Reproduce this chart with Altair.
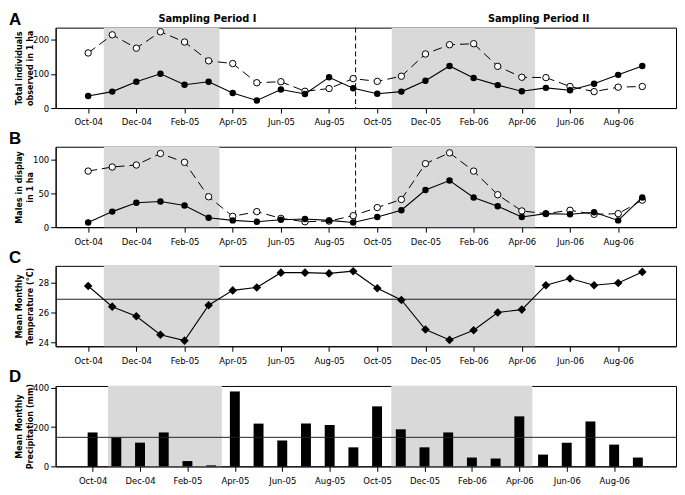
import altair as alt
import pandas as pd

months = ["Oct-04", "Nov-04", "Dec-04", "Jan-05", "Feb-05", "Mar-05", "Apr-05", "May-05",
          "Jun-05", "Jul-05", "Aug-05", "Sep-05", "Oct-05", "Nov-05", "Dec-05", "Jan-06",
          "Feb-06", "Mar-06", "Apr-06", "May-06", "Jun-06", "Jul-06", "Aug-06", "Sep-06"]
total_filled = [35, 48, 77, 100, 68, 77, 44, 22, 54, 41, 90, 58,
                42, 48, 80, 123, 88, 67, 49, 59, 52, 71, 97, 123]
total_open = [161, 214, 175, 223, 193, 138, 130, 74, 77, 49, 57, 86,
              78, 93, 158, 185, 188, 122, 90, 89, 63, 48, 61, 63]
males_filled = [7, 23, 36, 38, 32, 14, 10, 8, 11, 12, 10, 7,
                15, 25, 55, 69, 44, 31, 15, 20, 19, 22, 10, 44]
males_open = [83, 89, 92, 109, 96, 45, 16, 23, 13, 8, 9, 17,
              29, 41, 94, 110, 83, 48, 24, 20, 25, 19, 20, 40]
temperature = [27.8, 26.4, 25.75, 24.5, 24.1, 26.5, 27.5, 27.7, 28.7, 28.7, 28.65, 28.8,
               27.65, 26.85, 24.85, 24.15, 24.8, 26.0, 26.2, 27.85, 28.3, 27.85, 28.0, 28.75]
precip = [173, 148, 121, 173, 27, 5, 382, 218, 132, 218, 211, 97,
          306, 189, 97, 173, 45, 40, 255, 60, 121, 229, 111, 45]

shade_start = [0.65, 12.6]
shade_end = [5.45, 18.55]
period_titles = ["Sampling Period I", "Sampling Period II"]
period_title_at = [4.95, 18.7]
period_split = [11.1]
temp_mean = [26.9]
precip_mean = [148]
panel_letters = ["A", "B", "C", "D"]

FONT = "DejaVu Sans Condensed, DejaVu Sans, sans-serif"
W, H = 625, 81
SHADE = "#d9d9d9"

idx = list(range(len(months)))
xscale = alt.Scale(domain=[-1.35, 24.4], nice=False, zero=False)
label_expr = "[" + ",".join("'" + m + "'" for m in months) + "][datum.value]"
xaxis = alt.Axis(values=list(range(0, 24, 2)), labelExpr=label_expr, title=None,
                 tickSize=5, labelPadding=4, grid=False, labelOverlap=False, labelFlush=False)


def yaxis(values, title):
    return alt.Axis(values=values, title=title, titleX=-41, titleY=H / 2, titleAngle=270,
                    titleAlign="center", titleBaseline="top", titleLineHeight=10.5,
                    tickSize=5, labelPadding=2, grid=False)


shade_df = pd.DataFrame({"start": shade_start, "end": shade_end})


def shade():
    return alt.Chart(shade_df).mark_rect(color=SHADE).encode(
        x=alt.X("start:Q", scale=xscale, axis=xaxis), x2="end:Q",
        y=alt.value(0), y2=alt.value(H))


def letter(i, y):
    return alt.Chart(pd.DataFrame({"l": [panel_letters[i]]})).mark_text(
        font="Liberation Sans", fontSize=17, fontWeight="bold", align="left",
        baseline="alphabetic", color="black").encode(
        x=alt.value(-47), y=alt.value(y), text="l:N")


def split_rule():
    return alt.Chart(pd.DataFrame({"s": period_split})).mark_rule(
        color="black", strokeDash=[5, 3], strokeWidth=1).encode(
        x=alt.X("s:Q", scale=xscale, axis=xaxis))


def two_series(filled, opened, ydom, yvals, title):
    df = pd.DataFrame({"idx": idx, "f": filled, "o": opened})
    ysc = alt.Scale(domain=ydom, nice=False, zero=False)
    ax = yaxis(yvals, title)
    base = alt.Chart(df)
    x = alt.X("idx:Q", scale=xscale, axis=xaxis)
    open_line = base.mark_line(color="black", strokeWidth=1, strokeDash=[9, 5]).encode(
        x=x, y=alt.Y("o:Q", scale=ysc, axis=ax))
    open_pts = base.mark_point(shape="circle", filled=True, fill="white", stroke="black",
                               strokeWidth=1, size=42, opacity=1).encode(
        x=x, y=alt.Y("o:Q", scale=ysc, axis=ax))
    fill_line = base.mark_line(color="black", strokeWidth=1.1).encode(
        x=x, y=alt.Y("f:Q", scale=ysc, axis=ax))
    fill_pts = base.mark_point(shape="circle", filled=True, color="black", size=42,
                               opacity=1).encode(
        x=x, y=alt.Y("f:Q", scale=ysc, axis=ax))
    return [open_line, open_pts, fill_line, fill_pts]


titles_df = pd.DataFrame({"t": period_titles, "p": period_title_at})
period_text = alt.Chart(titles_df).mark_text(
    font=FONT, fontSize=11, fontWeight="bold", color="black", baseline="middle").encode(
    x=alt.X("p:Q", scale=xscale, axis=xaxis), y=alt.value(-9), text="t:N")

panel_a = alt.layer(
    shade(), split_rule(),
    *two_series(total_filled, total_open, [0, 235], [0, 100, 200],
                ["Total individuals", "observed in 1 ha"]),
    period_text, letter(0, -3)
).properties(width=W, height=H)

panel_b = alt.layer(
    shade(), split_rule(),
    *two_series(males_filled, males_open, [0, 119], [0, 50, 100],
                ["Males in display", "in 1 ha"]),
    letter(1, -3)
).properties(width=W, height=H)

temp_df = pd.DataFrame({"idx": idx, "t": temperature})
tsc = alt.Scale(domain=[23.72, 29.16], nice=False, zero=False)
tax = yaxis([24, 26, 28], ["Mean Monthly", "Temperature (°C)"])
panel_c = alt.layer(
    shade(),
    alt.Chart(pd.DataFrame({"m": temp_mean})).mark_rule(color="#222222", strokeWidth=1).encode(
        y=alt.Y("m:Q", scale=tsc, axis=tax)),
    alt.Chart(temp_df).mark_line(color="black", strokeWidth=1.1).encode(
        x=alt.X("idx:Q", scale=xscale, axis=xaxis), y=alt.Y("t:Q", scale=tsc, axis=tax)),
    alt.Chart(temp_df).mark_point(shape="diamond", filled=True, color="black", size=75,
                                  opacity=1).encode(
        x=alt.X("idx:Q", scale=xscale, axis=xaxis), y=alt.Y("t:Q", scale=tsc, axis=tax)),
    letter(2, -3)
).properties(width=W, height=H)

prec_df = pd.DataFrame({"idx": idx, "p": precip})
psc = alt.Scale(domain=[0, 410], nice=False, zero=True)
pax = yaxis([0, 200, 400], ["Mean Monthly", "Precipitation (mm)"])
panel_d = alt.layer(
    shade(),
    alt.Chart(prec_df).mark_bar(color="black", size=10).encode(
        x=alt.X("idx:Q", scale=xscale, axis=xaxis), y=alt.Y("p:Q", scale=psc, axis=pax)),
    alt.Chart(pd.DataFrame({"m": precip_mean})).mark_rule(color="#222222", strokeWidth=1).encode(
        y=alt.Y("m:Q", scale=psc, axis=pax)),
    letter(3, -4)
).properties(width=W, height=H)

chart = alt.vconcat(panel_a, panel_b, panel_c, panel_d, spacing=2).properties(
    padding={"left": 0, "top": 0, "right": 0, "bottom": 0}
).configure_view(stroke="black", strokeWidth=1).configure_axis(
    labelFont=FONT, labelFontSize=9.5, labelColor="black",
    titleFont=FONT, titleFontSize=9, titleFontWeight="bold", titleColor="black",
    domainColor="black", tickColor="black", domainWidth=1, tickWidth=1
)

chart.save("out.html", embed_options={"renderer": "svg", "actions": False})
